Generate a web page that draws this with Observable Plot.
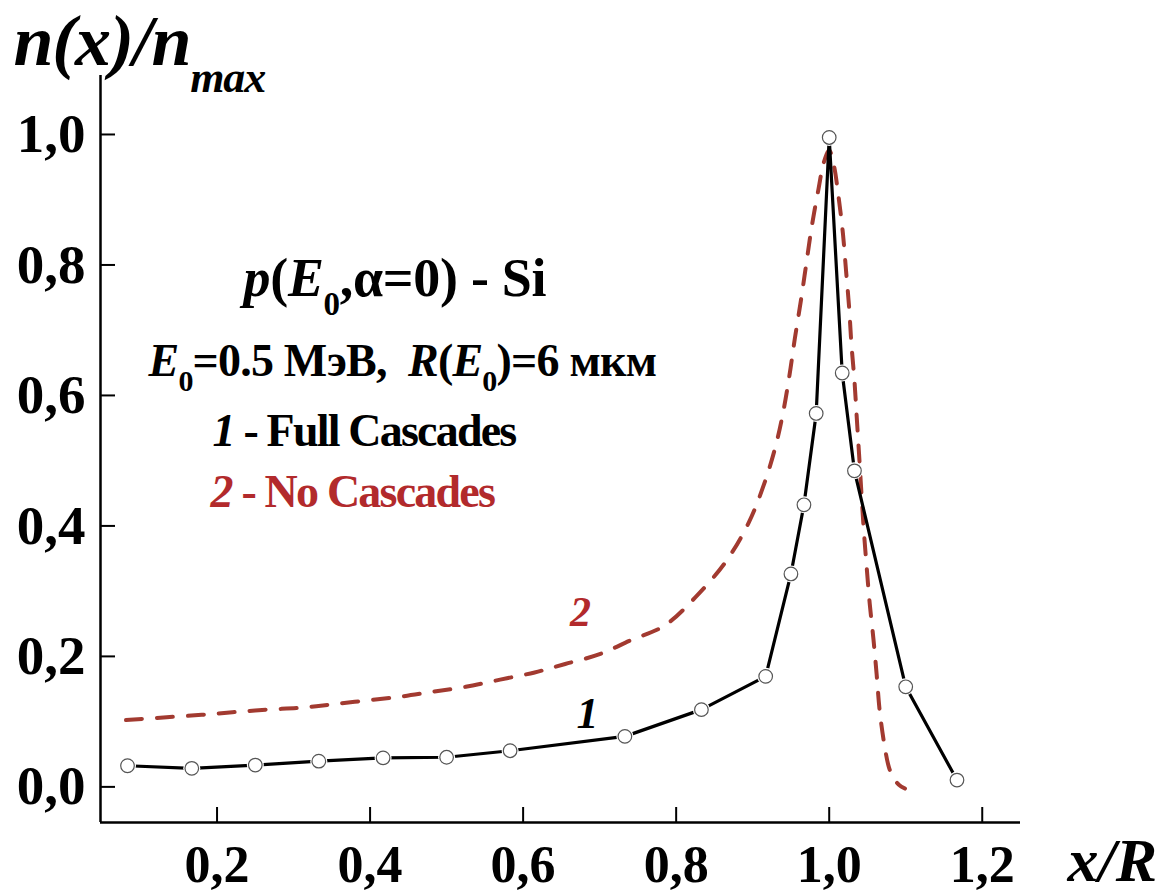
<!DOCTYPE html>
<html>
<head>
<meta charset="utf-8">
<script src="https://cdn.jsdelivr.net/npm/d3@7"></script>
<script src="https://cdn.jsdelivr.net/npm/@observablehq/plot@0.6"></script>
<style>
  html, body { margin: 0; padding: 0; background: #fff; }
  #chart { width: 1175px; height: 894px; }
  svg text { white-space: pre; }
</style>
</head>
<body>
<div id="chart"></div>
<script>
// ---- Data ----
// Curve 1 - Full Cascades (circles joined by a solid line)
const fullX = [0.083, 0.167, 0.25, 0.333, 0.417, 0.5, 0.583, 0.733, 0.833, 0.917, 0.95, 0.967, 0.983, 1.0, 1.017, 1.033, 1.1, 1.167];
const fullY = [0.037, 0.033, 0.038, 0.044, 0.049, 0.050, 0.060, 0.082, 0.123, 0.174, 0.331, 0.437, 0.577, 1.0, 0.639, 0.489, 0.158, 0.015];

// Curve 2 - No Cascades (dashed)
const noX = [0.081, 0.13, 0.18, 0.22, 0.265, 0.31, 0.35, 0.395, 0.44, 0.48, 0.525, 0.57, 0.615, 0.655, 0.70, 0.74, 0.785, 0.825, 0.865, 0.895, 0.915, 0.93, 0.94, 0.948, 0.955, 0.963, 0.97, 0.977, 0.986, 0.993, 1.0, 1.006, 1.012, 1.018, 1.022, 1.026, 1.029, 1.033, 1.036, 1.039, 1.045, 1.049, 1.053, 1.058, 1.062, 1.066, 1.072, 1.078, 1.084, 1.091, 1.099];
const noY = [0.107, 0.111, 0.115, 0.119, 0.123, 0.126, 0.131, 0.137, 0.143, 0.150, 0.158, 0.169, 0.180, 0.193, 0.208, 0.229, 0.252, 0.295, 0.350, 0.410, 0.469, 0.527, 0.580, 0.635, 0.691, 0.750, 0.806, 0.862, 0.921, 0.962, 0.98, 0.958, 0.911, 0.852, 0.796, 0.740, 0.684, 0.627, 0.571, 0.515, 0.402, 0.341, 0.285, 0.229, 0.177, 0.121, 0.070, 0.035, 0.018, 0.008, 0.002];

// Ticks
const xTicks = [0.2, 0.4, 0.6, 0.8, 1.0, 1.2];
const yTicks = [0.0, 0.2, 0.4, 0.6, 0.8, 1.0];

// Text
const yTitle = [{t: "n(x)/n"}, {t: "max", fs: 44, dy: 27}];
const xTitle = [{t: "x/R"}];
const line1 = [{t: "p", it: 1}, {t: "("}, {t: "E", it: 1}, {t: "0", fs: 33, dy: 19}, {t: ",α=0) - Si"}];
const line2 = [{t: "E", it: 1}, {t: "0", fs: 30, dy: 15}, {t: "=0.5 МэВ,  "}, {t: "R", it: 1}, {t: "("}, {t: "E", it: 1}, {t: "0", fs: 30, dy: 15}, {t: ")=6 мкм"}];
const line3 = [{t: "1", it: 1}, {t: " - Full Cascades"}];
const line4 = [{t: "2", it: 1}, {t: " - No Cascades"}];
const curveLabel1 = [{t: "1", it: 1}];
const curveLabel2 = [{t: "2", it: 1}];

// ---- Build ----
const full = fullX.map((x, i) => ({x, y: fullY[i]}));
const noCasc = noX.map((x, i) => ({x, y: noY[i]}));
const xDomain = [0.0477, 1.25];
const yDomain = [-0.05, 1.095];
const fmt = d => d.toFixed(1).replace(".", ",");
const RED = "#b22a2c";
const DASH = "#a23a30";

const plain = segs => segs.map(s => s.t).join("");
const richMap = new Map();
const annotations = [];
function annot(segs, opts, ls = 0) {
  const key = plain(segs);
  richMap.set(key, {segs, ls});
  annotations.push(Plot.text([key], {
    text: d => d,
    frameAnchor: "top-left",
    lineAnchor: "bottom",
    textAnchor: "start",
    fontWeight: "bold",
    ...opts
  }));
}
annot(yTitle, {dx: -87, dy: -11, fontSize: 72, fontStyle: "italic"}, -1.2);
annot(xTitle, {frameAnchor: "bottom-right", dx: 47, dy: 58, fontSize: 62, fontStyle: "italic"});
annot(line1, {dx: 143, dy: 220, fontSize: 54}, -0.3);
annot(line2, {dx: 48, dy: 300, fontSize: 46}, -0.8);
annot(line3, {dx: 112, dy: 370, fontSize: 46}, -1.8);
annot(line4, {dx: 110, dy: 431, fontSize: 46, fill: RED}, -1.8);
annot(curveLabel2, {dx: 480, dy: 550, fontSize: 42, fill: RED, textAnchor: "middle"});
annot(curveLabel1, {dx: 487, dy: 652, fontSize: 44, textAnchor: "middle"});

const chart = Plot.plot({
  width: 1175,
  height: 894,
  marginLeft: 100,
  marginRight: 155,
  marginTop: 75,
  marginBottom: 72,
  style: {fontFamily: "'Liberation Serif', 'Times New Roman', serif", fontWeight: "bold", background: "white", overflow: "visible", color: "black"},
  x: {domain: xDomain, label: null},
  y: {domain: yDomain, label: null},
  marks: [
    Plot.axisX(xTicks, {anchor: "bottom", tickSize: -15, tickPadding: 38, tickFormat: fmt, fontSize: 52, fontWeight: "bold", strokeWidth: 2, label: null}),
    Plot.axisY(yTicks, {anchor: "left", tickSize: -15, tickPadding: 30, tickFormat: fmt, fontSize: 55, fontWeight: "bold", strokeWidth: 2, dy: -3, label: null}),
    Plot.ruleX([xDomain[0]], {stroke: "black", strokeWidth: 2.5}),
    Plot.ruleY([yDomain[0]], {stroke: "black", strokeWidth: 2.5}),
    Plot.line(noCasc, {x: "x", y: "y", stroke: DASH, strokeWidth: 4, strokeDasharray: "16,15", curve: "catmull-rom"}),
    Plot.line(full, {x: "x", y: "y", stroke: "black", strokeWidth: 3.2}),
    Plot.dot(full, {x: "x", y: "y", r: 8.5, fill: "white", stroke: "none"}),
    Plot.dot(full, {x: "x", y: "y", r: 6.8, fill: "white", stroke: "#555", strokeWidth: 1.2}),
    ...annotations
  ]
});

// rich text: italic parts and subscripts
d3.select(chart).selectAll("text").each(function() {
  const entry = richMap.get(this.textContent);
  if (!entry) return;
  const {segs, ls} = entry;
  while (this.firstChild) this.removeChild(this.firstChild);
  if (ls) this.style.letterSpacing = ls + "px";
  let shift = 0;
  for (const s of segs) {
    const ts = document.createElementNS("http://www.w3.org/2000/svg", "tspan");
    ts.textContent = s.t;
    if (s.fs) ts.setAttribute("font-size", s.fs);
    if (s.it) ts.setAttribute("font-style", "italic");
    const target = s.dy || 0;
    if (target !== shift) { ts.setAttribute("dy", target - shift); shift = target; }
    this.appendChild(ts);
  }
});

document.getElementById("chart").appendChild(chart);
</script>
</body>
</html>
